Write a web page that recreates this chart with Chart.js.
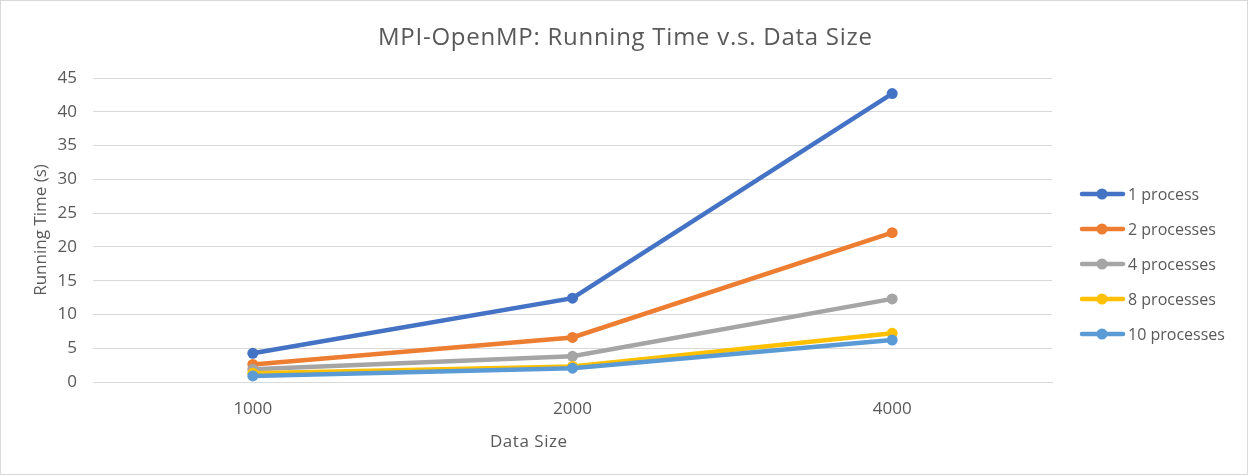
<!DOCTYPE html>
<html><head><meta charset="utf-8">
<script src="https://cdn.jsdelivr.net/npm/chart.js@4/dist/chart.umd.min.js"></script>
<style>
html,body{margin:0;padding:0;background:#fff;}
#wrap{position:relative;width:1248px;height:475px;box-sizing:border-box;border:1px solid #d9d9d9;}
canvas{display:block;}
</style></head>
<body><div id="wrap"><canvas id="c" width="1246" height="473"></canvas></div>
<script>
const categories = ["1000", "2000", "4000"];
const seriesNames = ["1 process", "2 processes", "4 processes", "8 processes", "10 processes"];
const p1 = [4.25, 12.4, 42.7];
const p2 = [2.6, 6.6, 22.1];
const p4 = [1.9, 3.8, 12.3];
const p8 = [1.3, 2.3, 7.2];
const p10 = [0.9, 2.05, 6.2];
const yTicks = [0, 5, 10, 15, 20, 25, 30, 35, 40, 45];
const chartTitle = "MPI-OpenMP: Running Time v.s. Data Size";
const xTitle = "Data Size";
const yTitle = "Running Time (s)";
const colors = ["#4472C4", "#ED7D31", "#A5A5A5", "#FFC000", "#5B9BD5"];
const seriesValues = [p1, p2, p4, p8, p10];

const FONT = "'Open Sans', sans-serif";
const TXT = "#595959";

const datasets = seriesValues.map((v, i) => ({
  label: seriesNames[i],
  data: v,
  borderColor: colors[i],
  backgroundColor: colors[i],
  borderWidth: 4.5,
  pointRadius: 5.5,
  pointHoverRadius: 5.5,
  pointBorderWidth: 0,
  tension: 0,
  order: seriesValues.length - 1 - i
}));

function fitText(ctx, text, cx, cy, targetW) {
  ctx.letterSpacing = '0px';
  const w = ctx.measureText(text).width;
  const ls = Math.max(0, (targetW - w) / (text.length - 1));
  ctx.letterSpacing = ls.toFixed(2) + 'px';
  ctx.textAlign = 'left';
  ctx.fillText(text, cx - targetW / 2, cy);
  ctx.letterSpacing = '0px';
}

const customPlugin = {
  id: 'custom',
  afterDraw(chart) {
    const ctx = chart.ctx;
    ctx.save();
    ctx.fillStyle = TXT;
    ctx.textBaseline = 'middle';
    ctx.font = "24px " + FONT;
    fitText(ctx, chartTitle, 624, 37, 494);
    ctx.font = "17px " + FONT;
    fitText(ctx, xTitle, 527.5, 441, 77);
    // legend
    ctx.font = "16px " + FONT;
    const x0 = 1079, y0 = 193, dy = 35;
    chart.data.datasets.forEach((ds, i) => {
      const y = y0 + i * dy;
      ctx.strokeStyle = ds.borderColor;
      ctx.lineWidth = 4.5;
      ctx.lineCap = 'round';
      ctx.beginPath(); ctx.moveTo(x0 + 2, y); ctx.lineTo(x0 + 43, y); ctx.stroke();
      ctx.fillStyle = ds.borderColor;
      ctx.beginPath(); ctx.arc(x0 + 22, y, 5.5, 0, Math.PI * 2); ctx.fill();
      ctx.fillStyle = TXT;
      ctx.textAlign = 'left';
      ctx.fillText(ds.label, x0 + 48, y + 1);
    });
    ctx.restore();
  }
};

new Chart(document.getElementById('c'), {
  type: 'line',
  data: { labels: categories, datasets: datasets },
  options: {
    responsive: false,
    animation: false,
    layout: { padding: { left: 30, right: 195, top: 77, bottom: 0 } },
    plugins: {
      legend: { display: false },
      tooltip: { enabled: false },
      title: { display: false }
    },
    scales: {
      x: {
        type: 'category',
        offset: true,
        grid: { display: false, drawTicks: false },
        border: { display: true, color: '#d9d9d9', width: 1 },
        ticks: { color: TXT, font: { family: FONT, size: 17 }, padding: 17 },
        afterFit(s) { s.height = 92; }
      },
      y: {
        min: 0, max: 45,
        afterBuildTicks(s) { s.ticks = yTicks.map(v => ({ value: v })); },
        grid: { color: '#d9d9d9', lineWidth: 1, drawTicks: false },
        border: { display: false },
        ticks: { color: TXT, font: { family: FONT, size: 17 }, padding: 16 },
        title: { display: true, text: yTitle, color: TXT, font: { family: FONT, size: 17 }, padding: { top: 0, bottom: 0 } },
        afterFit(s) { s.width = 62; }
      }
    }
  },
  plugins: [customPlugin]
});
</script>
</body></html>
